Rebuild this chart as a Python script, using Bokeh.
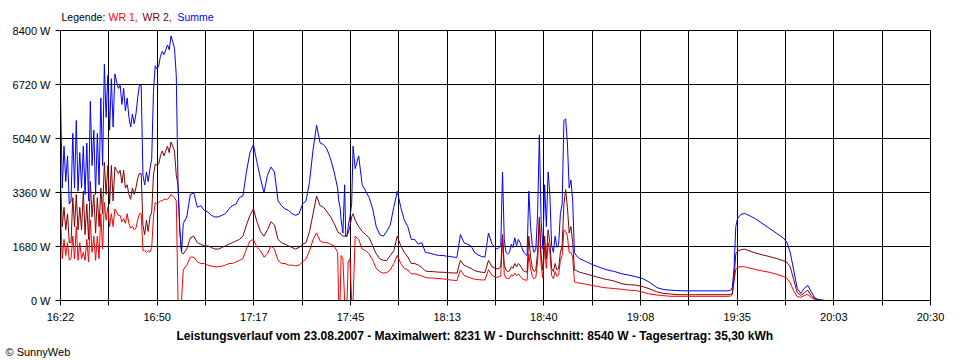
from bokeh.plotting import figure
from bokeh.layouts import column
from bokeh.models import (Range1d, FixedTicker, CustomJSTickFormatter,
                          PrintfTickFormatter, Label, Title, ColumnDataSource)
from bokeh.embed import file_html
from bokeh.resources import INLINE

# minutes after 16:22
t_min = [
    0.0, 0.5, 1.0, 1.5, 2.0, 2.5, 3.0, 3.5, 4.0, 4.5,
    5.0, 5.5, 6.0, 6.5, 7.0, 7.5, 8.0, 8.5, 9.0, 9.5,
    10.0, 10.5, 11.0, 11.5, 12.0, 12.5, 13.0, 13.5, 14.0, 14.5,
    15.0, 15.5, 16.0, 16.5, 17.0, 17.5, 18.0, 18.5, 19.0, 19.5,
    20.0, 20.5, 21.0, 21.5, 22.0, 22.5, 23.0, 23.5, 24.0, 24.5,
    25.0, 25.5, 26.0, 26.5, 27.0, 27.5, 28.0, 28.5, 29.0, 29.5,
    30.0, 30.5, 31.0, 31.5, 32.0, 32.5, 33.0, 33.5, 34.0, 34.5, 35.0,
    36, 37, 38, 39, 40, 41, 42, 43, 44, 45,
    46, 47, 48, 49, 50, 51, 52, 53, 54, 55,
    56, 57, 58, 59, 60, 61, 62, 63, 64, 65,
    66, 67, 68, 69, 70, 71, 72, 73, 74, 75,
    76, 77, 78, 79,
    79.3, 79.7, 80.0, 80.5, 81.0, 81.3, 81.7, 82.0, 82.5, 83.0, 83.4,
    84, 85, 86, 87, 88, 89, 90, 91, 92, 93, 94, 95, 96, 97, 98, 99, 100,
    101, 102, 103, 104, 105, 106, 107, 108, 109, 110, 111, 112,
    113, 114, 115, 116, 117, 118, 119, 120, 121, 122, 123, 124,
    124.5, 125, 125.5, 126, 126.5, 127, 127.5, 128, 128.5, 129,
    129.5, 130, 130.5, 131, 131.5, 132, 132.5, 133, 133.5, 134,
    134.5, 135, 135.5, 136, 136.5, 137, 137.5, 138, 138.5, 139,
    139.5, 140, 140.5, 141, 141.5, 142, 142.5, 143, 143.5, 144,
    144.5, 145, 145.5, 146, 146.5, 147,
    148, 149, 150, 151, 152, 153, 154, 155,
    156, 158, 160, 162, 164, 166, 168, 170, 172, 174, 176, 178, 180,
    182, 184, 186, 188, 190,
    191, 191.5, 192, 192.5, 193, 194, 195, 196, 198, 200, 202, 204, 206,
    207, 208, 209, 210, 211, 212, 213, 214, 215, 216, 217, 218,
]

wr1 = [
    2700, 1300, 1900, 1400, 1800, 1250, 1300, 2000, 1300, 2300,
    1250, 1800, 1300, 1500, 1250, 1900, 1200, 2500, 1500, 2000,
    1250, 2000, 1300, 2700, 1600, 3050, 2500, 2900, 2300, 2700,
    2300, 2850, 2750, 2650, 2650, 2450, 2550, 2400, 2700, 2400,
    2250, 2300, 2200, 2250, 2500, 2700, 2700, 1550, 1550, 1500,
    1550, 1500, 1650, 2600, 3050, 3000, 3050, 3100, 3100, 3150,
    3150, 3150, 3200, 3300, 3250, 3200, 3100, 0, 0, 0, 950,
    1100, 1350, 1350, 1200, 1150, 1150, 1100, 1070, 1050, 1050,
    1070, 1100, 1150, 1150, 1200, 1250, 1300, 1600, 1850, 1900,
    1650, 1550, 1350, 1450, 1700, 1600, 1250, 1150, 1150, 1100,
    1100, 1080, 1100, 1200, 1300, 1550, 1900, 2100, 1850, 1800,
    1800, 1750, 1700, 1500,
    0, 0, 1400, 1300, 0, 0, 0, 1200, 1300, 0, 0,
    2000, 1900, 1600, 1550, 1450, 1250, 1000, 900, 850, 870, 950, 1150, 1400, 1150, 1000, 950, 830,
    830, 800, 760, 720, 700, 700, 690, 680, 670, 660, 640, 630,
    620, 950, 780, 740, 700, 660, 650, 640, 640, 960, 780, 730,
    720, 740, 760, 2000, 800, 700, 680, 700, 800, 760,
    850, 780, 820, 760, 690, 650, 640, 630, 1450, 1000,
    750, 670, 720, 1200, 2500, 1100, 700, 1650, 1000, 1800,
    1500, 780, 680, 900, 750, 800, 1250, 1400, 2200, 2150,
    2000, 1500, 1500, 1350, 580, 560,
    540, 520, 500, 480, 460, 440, 420, 400,
    390, 370, 350, 320, 310, 260, 200, 170, 150, 130, 130, 130, 130,
    130, 130, 130, 130, 130,
    140, 180, 600, 980, 1040, 1050, 1050, 1020, 970, 920, 880, 820, 750,
    700, 550, 300, 120, 100, 160, 190, 90, 30, 10, 5, 0,
]

wr2 = [
    3700, 2300, 2900, 2200, 2700, 1800, 1800, 3200, 2300, 3300,
    2200, 2900, 2200, 3400, 2050, 3000, 1900, 3700, 2600, 3300,
    2100, 3200, 2300, 3500, 2700, 4300, 3300, 4200, 3000, 4200,
    3100, 4150, 4050, 3950, 4050, 3650, 4050, 3500, 3600, 3300,
    3150, 3500, 3300, 3500, 3800, 3950, 3950, 2350, 2050, 2500,
    2150, 2600, 2750, 3900, 4250, 4200, 4250, 4500, 4650, 4500,
    4650, 4800, 4600, 4930, 4800, 4650, 3900, 3600, 2200, 1500, 1450,
    1600, 1950, 2000, 1800, 1750, 1700, 1700, 1650, 1600, 1600,
    1650, 1700, 1750, 1800, 1850, 1900, 2000, 2350, 2650, 2850,
    2450, 2150, 2000, 2200, 2450, 2350, 1900, 1800, 1750, 1700,
    1650, 1600, 1650, 1750, 1800, 2150, 2700, 3250, 2950, 2900,
    2750, 2600, 2400, 2150,
    2100, 2100, 2050, 2000, 2000, 2000, 2050, 2100, 2300, 2600, 2700,
    2500, 2300, 2150, 2050, 1950, 1700, 1450, 1300, 1250, 1250, 1400, 1550, 2000, 1700, 1500, 1350, 1150,
    1150, 1100, 1030, 920, 900, 900, 890, 880, 880, 870, 860, 860,
    850, 1250, 1100, 1050, 1000, 930, 900, 880, 870, 1250, 1050, 1000,
    980, 1000, 1050, 2050, 1100, 950, 900, 920, 1050, 1000,
    1150, 1050, 1150, 1100, 1000, 920, 900, 880, 2000, 1350,
    1000, 900, 950, 1500, 2600, 1400, 950, 2000, 1300, 2200,
    1800, 1000, 900, 1150, 950, 1000, 1500, 1700, 3000, 3450,
    2900, 2100, 2300, 1800, 950, 930,
    880, 850, 820, 790, 760, 730, 700, 670,
    650, 600, 520, 490, 480, 430, 360, 270, 220, 200, 180, 180, 180,
    180, 180, 180, 180, 180,
    190, 220, 700, 1450, 1530, 1580, 1600, 1560, 1480, 1420, 1370, 1310, 1240,
    1200, 1050, 650, 250, 160, 240, 320, 150, 60, 20, 10, 0,
]

summe = [
    6350, 3500, 4800, 3700, 4500, 3000, 3100, 5200, 3500, 5600,
    3400, 4600, 3500, 4800, 3300, 4900, 3100, 6200, 4200, 5300,
    3300, 5200, 3600, 6300, 4200, 7350, 5700, 7000, 5300, 6900,
    5400, 7050, 6800, 6600, 6700, 6100, 6600, 5900, 6300, 5700,
    5400, 5800, 5500, 5800, 6300, 6700, 6700, 3900, 3600, 4000,
    3700, 4100, 4400, 6500, 7300, 7200, 7300, 7600, 7750, 7650,
    7800, 7950, 7800, 8230, 8050, 7850, 7000, 3600, 2200, 1500, 2400,
    2600, 3300, 3350, 2900, 2950, 2800, 2750, 2650, 2600, 2600,
    2650, 2700, 2850, 2950, 3000, 3200, 3250, 4000, 4600, 4850,
    4300, 3800, 3350, 3900, 4150, 4000, 3100, 2950, 2850, 2800,
    2700, 2650, 2700, 3000, 3100, 3700, 4700, 5450, 4900, 4850,
    4700, 4400, 4000, 3500,
    3100, 2900, 2500, 2100, 3600, 2000, 2000, 2300, 2600, 3000, 4800,
    4100, 4500, 3600, 3400, 3200, 2850, 2300, 2050, 2000, 2150, 2350, 2900, 3400, 2900, 2500, 2300, 1900,
    1900, 1750, 1800, 1500, 1480, 1450, 1420, 1400, 1400, 1380, 1370, 1350,
    1340, 2050, 1800, 1750, 1700, 1500, 1420, 1370, 1350, 2100, 1750, 1650,
    1600, 1650, 1700, 4000, 1900, 1500, 1450, 1500, 1750, 1650,
    1950, 1700, 1900, 1800, 1650, 1500, 1450, 1400, 3400, 2300,
    1700, 1500, 1600, 2700, 5150, 2500, 1600, 3600, 2300, 4000,
    3300, 1700, 1500, 2000, 1650, 1750, 2700, 3000, 5600, 5650,
    4900, 3500, 3750, 3100, 1500, 1400,
    1300, 1250, 1200, 1150, 1100, 1060, 1020, 980,
    950, 900, 830, 790, 740, 680, 560, 400, 340, 320, 310, 300, 300,
    300, 300, 300, 300, 300,
    310, 400, 1000, 2300, 2550, 2680, 2710, 2660, 2550, 2400, 2250, 2100, 1950,
    1820, 1500, 950, 380, 220, 380, 470, 280, 80, 30, 10, 0,
]

x_tick_labels = ["16:22", "", "16:50", "", "17:17", "", "17:45", "", "18:13", "",
                 "18:40", "", "19:08", "", "19:35", "", "20:03", "", "20:30"]
y_ticks = [0, 1680, 3360, 5040, 6720, 8400]
span_min = 248  # 16:22 -> 20:30

legend_parts = ["Legende:", "WR 1,", "WR 2,", "Summe"]
legend_colors = ["black", "#ff0000", "#800000", "#0000ff"]
caption = ("Leistungsverlauf vom 23.08.2007 - Maximalwert: 8231 W - "
           "Durchschnitt: 8540 W - Tagesertrag: 35,30 kWh")
credit = "© SunnyWeb"

assert len(t_min) == len(wr1) == len(wr2) == len(summe)

step = span_min / (len(x_tick_labels) - 1)
x_ticks = [i * step for i in range(len(x_tick_labels))]

src = ColumnDataSource(dict(t=t_min, wr1=wr1, wr2=wr2, summe=summe))

FONT = "Liberation Sans"
W = 960
HEAD_H = 24

# ---- header strip holding the coloured legend line ----
head = figure(width=W, height=HEAD_H, output_backend="svg", toolbar_location=None,
              x_axis_type=None, y_axis_type=None,
              x_range=Range1d(0, 1), y_range=Range1d(0, 1),
              min_border_left=60, min_border_right=30, min_border_top=0,
              min_border_bottom=0)
head.outline_line_color = None
head.background_fill_color = "white"
head.border_fill_color = "white"
head.xgrid.visible = False
head.ygrid.visible = False
# offsets (px) from the header frame's left edge (aligned with the chart frame)
legend_x = [1, 48, 82, 117]
for txt, col, lx in zip(legend_parts, legend_colors, legend_x):
    head.add_layout(Label(x=lx, y=HEAD_H - 16.5, x_units="screen", y_units="screen",
                          text=txt, text_color=col, text_align="left",
                          text_baseline="middle", text_font=FONT,
                          text_font_size="10.5px"))

# ---- main chart ----
p = figure(width=W, height=360 - HEAD_H, output_backend="svg", toolbar_location=None,
           x_range=Range1d(0, span_min), y_range=Range1d(0, 8400),
           min_border_left=60, min_border_right=30, min_border_top=30 - HEAD_H,
           min_border_bottom=60)
p.background_fill_color = "white"
p.border_fill_color = "white"
p.outline_line_color = "black"
p.outline_line_alpha = 1

p.line("t", "wr1", source=src, line_color="#ff0000", line_width=1)
p.line("t", "wr2", source=src, line_color="#800000", line_width=1)
p.line("t", "summe", source=src, line_color="#0000ff", line_width=1)

p.xaxis.ticker = FixedTicker(ticks=x_ticks)
p.xgrid.ticker = FixedTicker(ticks=x_ticks)
p.xaxis.formatter = CustomJSTickFormatter(
    args=dict(labels=x_tick_labels, step=step),
    code="const i = Math.round(tick / step); return labels[i] || '';")
p.yaxis.ticker = FixedTicker(ticks=y_ticks)
p.ygrid.ticker = FixedTicker(ticks=y_ticks)
p.yaxis.formatter = PrintfTickFormatter(format="%d W")

for ax in (p.xaxis, p.yaxis):
    ax.axis_line_color = "black"
    ax.major_tick_line_color = "black"
    ax.major_tick_out = 5
    ax.major_tick_in = 0
    ax.minor_tick_line_color = None
    ax.major_label_text_font = FONT
    ax.major_label_text_font_size = "11px"
    ax.major_label_text_color = "black"
    ax.major_label_standoff = 5

for g in (p.xgrid, p.ygrid):
    g.grid_line_color = "black"
    g.grid_line_alpha = 1
    g.grid_line_width = 1

# caption and credit below the x axis
p.add_layout(Title(text=caption, align="left", offset=116, standoff=2,
                   text_font=FONT, text_font_size="12px",
                   text_font_style="bold", text_color="black"), "below")
p.add_layout(Title(text=credit, align="left", offset=-55, standoff=0,
                   text_font=FONT, text_font_size="11px",
                   text_font_style="normal", text_color="black"), "below")

layout = column(head, p, spacing=0)
open("out.html", "w").write(file_html(layout, INLINE))
